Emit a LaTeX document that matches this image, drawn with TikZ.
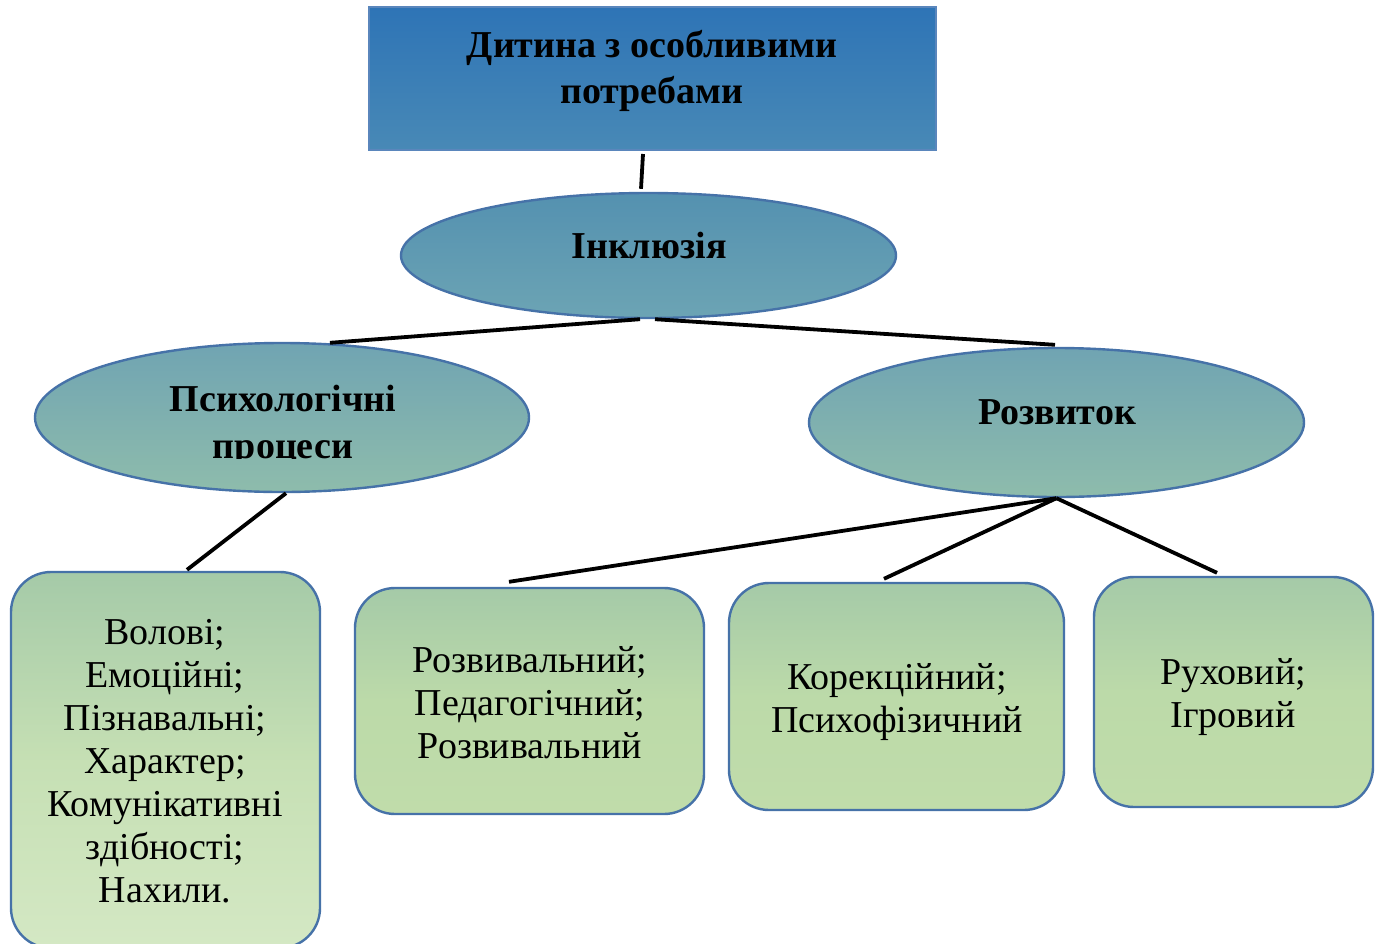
\documentclass[tikz,border=0pt]{standalone}
\usepackage{fontspec}
\setmainfont{Liberation Serif}
\usetikzlibrary{shapes.geometric,calc}
\definecolor{bordc}{HTML}{4672A8}
\definecolor{topbord}{HTML}{5A86BC}
\definecolor{topT}{HTML}{2E74B6}
\definecolor{topB}{HTML}{4889B6}
\definecolor{inclT}{HTML}{5491B0}
\definecolor{inclB}{HTML}{6CA4B4}
\definecolor{ellT}{HTML}{70A4B2}
\definecolor{ellB}{HTML}{8EBCAC}
\definecolor{gT}{HTML}{A5CAA8}
\definecolor{gM}{HTML}{BCDAA9}
\definecolor{gB}{HTML}{C0DCAA}
\definecolor{gL}{HTML}{D4E8C4}
\begin{document}
\begin{tikzpicture}[x=1pt,y=-1pt,
  bord/.style={draw=bordc, line width=2.4pt},
  conn/.style={line width=3.8pt, black},
  boxtxt/.style={align=center, font=\fontsize{38}{43}\selectfont, inner sep=0},
  headtxt/.style={align=center, font=\fontsize{38}{46}\selectfont\bfseries, inner sep=0},
  gbox/.style={bord, rounded corners=40pt, inner sep=0, top color=gT, bottom color=gB, middle color=gM},
  ell/.style={ellipse, bord, inner sep=0, top color=ellT, bottom color=ellB}
]
\clip (0,0) rectangle (1384,943);
\fill[white] (0,0) rectangle (1384,943);
% top box
\node[draw=topbord, line width=2pt, top color=topT, bottom color=topB, inner sep=0,
      minimum width=567pt, minimum height=143pt] (top) at (652.5,78.5) {};
\node[headtxt] (ttop) at (652,71) {Дитина з особливими\\потребами};
% ellipses
\node[ell, top color=inclT, bottom color=inclB, minimum width=495pt, minimum height=125pt] (incl) at (648.5,255.5) {};
\node[headtxt] (tincl) at (649,245) {Інклюзія};
\node[ell, minimum width=494pt, minimum height=149pt] (psych) at (282,417.5) {};
\begin{scope}
\clip (0,0) rectangle (1384,458);
\node[headtxt, font=\fontsize{38}{47}\selectfont\bfseries] (tpsych) at (283,426) {Психологічні\\процеси};
\end{scope}
\node[ell, minimum width=495pt, minimum height=149pt] (rozv) at (1056.5,422.5) {};
\node[headtxt] (trozv) at (1057,412) {Розвиток};
% green boxes
\node[gbox, top color=gT, bottom color=gL, middle color=gM!60!gL, minimum width=309pt, minimum height=376pt] (b1) at (165.5,760) {};
\node[boxtxt] (tb1) at (165,761) {Волові;\\Емоційні;\\Пізнавальні;\\Характер;\\Комунікативні\\здібності;\\Нахили.};
\node[gbox, minimum width=349pt, minimum height=226pt] (b2) at (529.5,701) {};
\node[boxtxt] (tb2) at (530,703) {Розвивальний;\\Педагогічний;\\Розвивальний};
\node[gbox, minimum width=335pt, minimum height=227pt] (b3) at (896.5,696.5) {};
\node[boxtxt] (tb3) at (897,702) {Корекційний;\\Психофізичний};
\node[gbox, minimum width=279pt, minimum height=230pt] (b4) at (1233.5,692) {};
\node[boxtxt] (tb4) at (1233,697.5) {Руховий;\\Ігровий};
% connectors
\draw[conn] ([xshift=-9.5pt,yshift=-3pt]top.south) -- ([xshift=-7.5pt,yshift=3pt]incl.north);
\draw[conn] ([xshift=-8.5pt]incl.south) -- ([xshift=48pt,yshift=-1pt]psych.north);
\draw[conn] ([xshift=6.5pt]incl.south) -- ([xshift=-1.5pt,yshift=2pt]rozv.north);
\draw[conn] ([xshift=4pt]psych.south) -- ([xshift=21.5pt,yshift=1pt]b1.north);
\draw[conn] (rozv.south) -- ([xshift=-20.5pt,yshift=5pt]b2.north);
\draw[conn] (rozv.south) -- ([xshift=-12.5pt,yshift=3pt]b3.north);
\draw[conn] (rozv.south) -- ([xshift=-16.5pt,yshift=3pt]b4.north);
\end{tikzpicture}
\end{document}
